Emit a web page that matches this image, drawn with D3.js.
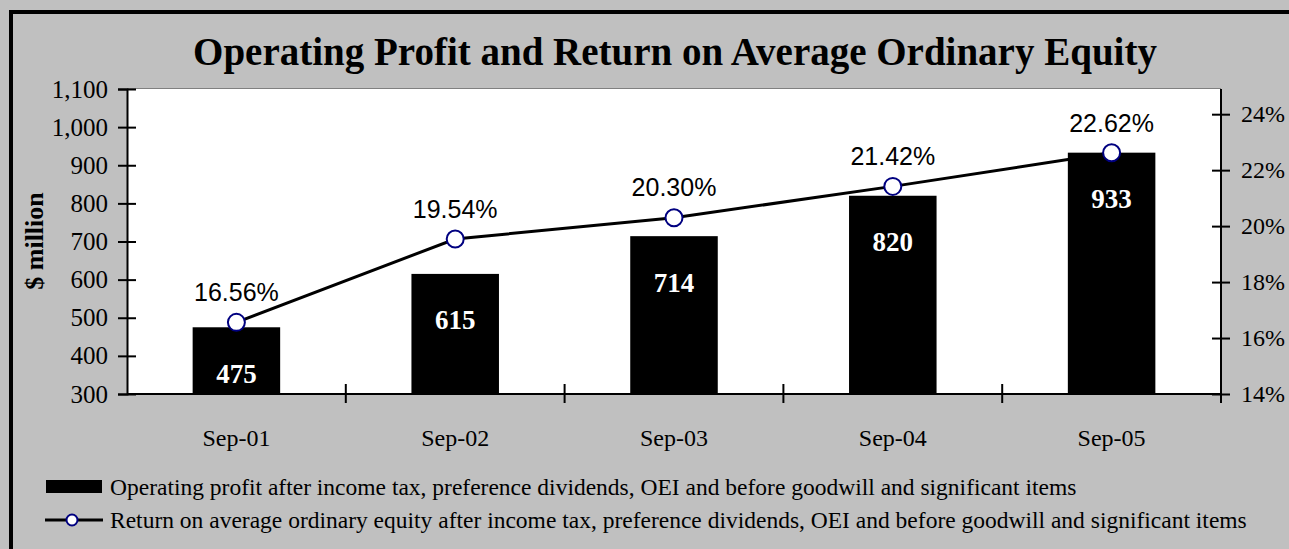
<!DOCTYPE html>
<head>
    <meta charset="utf-8">
    <script src="https://d3js.org/d3.v7.min.js"></script>
    <style>
        body { margin:0; background:#c0c0c0; }
        .serif { font-family: "Liberation Serif", "Times New Roman", serif; }
        .sans { font-family: "Liberation Sans", Arial, sans-serif; }
        .axis path, .axis line { stroke: black; stroke-width: 2; }
        .axis text { font-family: "Liberation Serif", serif; fill: black; }
    </style>
</head>
<body>
<script>
    var categories = ['Sep-01', 'Sep-02', 'Sep-03', 'Sep-04', 'Sep-05'];
    var profit = [475, 615, 714, 820, 933];
    var roe = [16.56, 19.54, 20.30, 21.42, 22.62];
    var leftTicks = [300, 400, 500, 600, 700, 800, 900, 1000, 1100];
    var rightTicks = [14, 16, 18, 20, 22, 24];
    var legendLabels = [
        'Operating profit after income tax, preference dividends, OEI and before goodwill and significant items',
        'Return on average ordinary equity after income tax, preference dividends, OEI and before goodwill and significant items'
    ];

    var width = 1289, height = 549;
    var plotL = 127, plotR = 1221, plotT = 89, plotB = 394;

    var svg = d3.select('body').append('svg')
        .attr('width', width)
        .attr('height', height);

    // frame (only top and left edges show)
    svg.append('rect').attr('x', 0).attr('y', 0).attr('width', width).attr('height', height).attr('fill', '#c0c0c0');
    svg.append('rect').attr('x', 9).attr('y', 10).attr('width', width).attr('height', 4).attr('fill', 'black');
    svg.append('rect').attr('x', 9).attr('y', 10).attr('width', 4).attr('height', height).attr('fill', 'black');

    // plot area
    svg.append('rect').attr('x', plotL).attr('y', plotT).attr('width', plotR - plotL).attr('height', plotB - plotT).attr('fill', 'white');
    svg.append('line').attr('x1', plotL).attr('x2', plotR).attr('y1', plotT - 0.5).attr('y2', plotT - 0.5)
        .attr('stroke', '#808080').attr('stroke-width', 1);

    var x = d3.scaleBand().domain(categories).range([plotL, plotR]).paddingInner(0.6).paddingOuter(0.3);
    var y = d3.scaleLinear().domain([300, 1100]).range([plotB, plotT]);
    var y2 = d3.scaleLinear().domain([14, 24.9]).range([plotB, plotT]);
    var cx = d => x(d) + x.bandwidth() / 2;

    // bars
    svg.selectAll('.bar').data(profit).enter().append('rect')
        .attr('class', 'bar')
        .attr('x', (d, i) => x(categories[i]))
        .attr('y', d => y(d))
        .attr('width', x.bandwidth())
        .attr('height', d => plotB - y(d))
        .attr('fill', 'black');

    svg.selectAll('.barLabel').data(profit).enter().append('text')
        .attr('class', 'serif')
        .attr('x', (d, i) => cx(categories[i]))
        .attr('y', d => y(d) + 46)
        .attr('dy', '0.35em')
        .attr('text-anchor', 'middle')
        .attr('font-size', 27).attr('font-weight', 'bold').attr('fill', 'white')
        .text(d => d);

    // axes
    var yAxis = svg.append('g').attr('class', 'axis')
        .attr('transform', 'translate(' + plotL + ',0)')
        .call(d3.axisLeft(y).tickValues(leftTicks).tickFormat(d3.format(',')).tickSizeOuter(0).tickSize(9).tickPadding(10));
    yAxis.selectAll('line').attr('x1', 9);
    yAxis.selectAll('text').attr('font-size', 25);

    var y2Axis = svg.append('g').attr('class', 'axis')
        .attr('transform', 'translate(' + plotR + ',0)')
        .call(d3.axisRight(y2).tickValues(rightTicks).tickFormat(d => d + '%').tickSizeOuter(0).tickSize(9).tickPadding(11));
    y2Axis.select('path').attr('d', 'M0,' + plotT + 'V' + (plotB + 9));
    y2Axis.selectAll('line').attr('x1', -9);
    y2Axis.selectAll('text').attr('font-size', 24);

    var xAxis = svg.append('g').attr('class', 'axis')
        .attr('transform', 'translate(0,' + plotB + ')')
        .call(d3.axisBottom(x).tickSize(0).tickSizeOuter(0).tickPadding(35));
    xAxis.select('path').attr('d', 'M' + plotL + ',0H' + plotR);
    xAxis.selectAll('text').attr('font-size', 24);
    xAxis.selectAll('.sep').data(d3.range(1, categories.length)).enter().append('line')
        .attr('x1', i => plotL + x.step() * i).attr('x2', i => plotL + x.step() * i)
        .attr('y1', -10).attr('y2', 9);

    // line
    var line = d3.line().x((d, i) => cx(categories[i])).y(d => y2(d));
    svg.append('path').datum(roe).attr('d', line)
        .attr('fill', 'none').attr('stroke', 'black').attr('stroke-width', 3);

    svg.selectAll('.dot').data(roe).enter().append('circle')
        .attr('cx', (d, i) => cx(categories[i]))
        .attr('cy', d => y2(d))
        .attr('r', 8.5)
        .attr('fill', 'white').attr('stroke', '#000080').attr('stroke-width', 2);

    svg.selectAll('.roeLabel').data(roe).enter().append('text')
        .attr('class', 'sans')
        .attr('x', (d, i) => cx(categories[i]))
        .attr('y', d => y2(d) - 30)
        .attr('dy', '0.35em')
        .attr('text-anchor', 'middle')
        .attr('font-size', 25)
        .text(d => d.toFixed(2) + '%');

    // titles
    svg.append('text').attr('class', 'serif')
        .attr('x', 675).attr('y', 65)
        .attr('text-anchor', 'middle')
        .attr('font-size', 39).attr('font-weight', 'bold')
        .text('Operating Profit and Return on Average Ordinary Equity');

    svg.append('text').attr('class', 'serif')
        .attr('transform', 'translate(43,241) rotate(-90)')
        .attr('text-anchor', 'middle')
        .attr('font-size', 26).attr('font-weight', 'bold')
        .text('$ million');

    // legend
    var legend = svg.append('g');
    legend.append('rect').attr('x', 46).attr('y', 480).attr('width', 56).attr('height', 13).attr('fill', 'black');
    legend.append('line').attr('x1', 45).attr('x2', 103).attr('y1', 520).attr('y2', 520)
        .attr('stroke', 'black').attr('stroke-width', 3);
    legend.append('circle').attr('cx', 72).attr('cy', 520).attr('r', 5.5)
        .attr('fill', 'white').attr('stroke', '#000080').attr('stroke-width', 2);
    legend.selectAll('.legText').data(legendLabels).enter().append('text')
        .attr('class', 'serif')
        .attr('x', 110)
        .attr('y', (d, i) => 495 + i * 33)
        .attr('font-size', 23.5)
        .text(d => d);
</script>
</body>
